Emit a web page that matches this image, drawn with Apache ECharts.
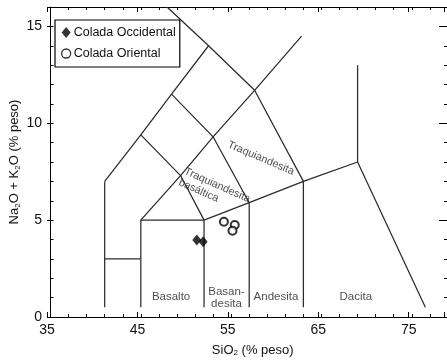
<!DOCTYPE html>
<html>
<head>
<meta charset="utf-8">
<script src="https://cdn.jsdelivr.net/npm/echarts@6/dist/echarts.min.js"></script>
<style>html,body{margin:0;padding:0;background:#fff}#c{width:447px;height:362px}</style>
</head>
<body>
<div id="c"></div>
<script>
// ---- Data ----
const seriesNames = ['Colada Occidental', 'Colada Oriental'];
const coladaOccidental = [[51.2, 3.97], [51.9, 3.89]];
const coladaOriental = [[54.2, 4.92], [55.4, 4.75], [55.15, 4.45]];

// TAS field boundaries (SiO2, Na2O+K2O)
const bPicrobasalt = [[41, 0.5], [41, 7]];
const bPicroTop = [[41, 3], [45, 3]];
const bBasalt = [[45, 0.5], [45, 5], [52, 5], [52, 0.5]];
const bSubalkaline = [[52, 5], [57, 5.9], [63, 7], [69, 8], [76.5, 0.5]];
const bAndesite = [[57, 0.5], [57, 5.9]];
const bDacite = [[63, 0.5], [63, 7]];
const bRhyolite = [[69, 8], [69, 13]];
const bFoidite = [[41, 7], [45, 9.4], [48.4, 11.5], [52.5, 14]];
const bTrachyLow = [[45, 5], [49.4, 7.3], [53, 9.3], [57.6, 11.7], [62.8, 14.5]];
const bTephrite = [[45, 9.4], [49.4, 7.3], [52, 5]];
const bPhonotephrite = [[48.4, 11.5], [53, 9.3], [57, 5.9]];
const bPhonolite = [[63, 7], [57.6, 11.7], [52.5, 14], [47.9, 16]];
const boundaries = [bPicrobasalt, bPicroTop, bBasalt, bSubalkaline, bAndesite, bDacite,
  bRhyolite, bFoidite, bTrachyLow, bTephrite, bPhonotephrite, bPhonolite];

// field names and their anchor points (SiO2, Na2O+K2O)
const fieldNames = ['Basalto', 'Basan-\ndesita', 'Andesita', 'Dacita', 'Traquiandesita', 'Traquiandesita', 'basáltica'];
const fieldAnchors = [[48.35, 1.05], [54.48, 1.0], [59.96, 1.05], [68.8, 1.03], [58.3, 8.2], [53.45, 6.8], [51.4, 6.52]];
const fieldAngles = [0, 0, 0, 0, -23, -24, -24];

const xTickLabels = [35, 45, 55, 65, 75];
const yTickLabels = [0, 5, 10, 15];

// ---- Chart ----
const FONT = 'Liberation Sans, Arial, sans-serif';
const TXT = '#111';
const LINE = '#2b2b2b';
const chart = echarts.init(document.getElementById('c'), null, {renderer: 'canvas'});

const gridBox = {left: 47, top: 7, right: -1, bottom: 45};
const XMIN = 35, XMAX = 78.9, YMIN = 0, YMAX = 16;

function baseX(gridIndex, position, interval, tickLen, showLine) {
  return {
    type: 'value', gridIndex, position, min: XMIN, max: XMAX, interval,
    axisLine: {show: showLine, onZero: false, lineStyle: {color: '#000', width: 1}},
    axisTick: {show: true, inside: true, length: tickLen, lineStyle: {color: '#000', width: 1}},
    axisLabel: {show: false},
    splitLine: {show: false}
  };
}
function baseY(gridIndex, position, interval, tickLen, showLine) {
  return {
    type: 'value', gridIndex, position, min: YMIN, max: YMAX, interval,
    axisLine: {show: showLine, onZero: false, lineStyle: {color: '#000', width: 1}},
    axisTick: {show: true, inside: true, length: tickLen, lineStyle: {color: '#000', width: 1}},
    axisLabel: {show: false},
    splitLine: {show: false}
  };
}

const xBottomMinor = baseX(0, 'bottom', 2, 3, true);
xBottomMinor.name = '{a|SiO}{s|2}{a| (% peso)}';
xBottomMinor.nameLocation = 'middle';
xBottomMinor.nameGap = 26;
xBottomMinor.nameTextStyle = {
  padding: [0, 0, 0, 8],
  rich: {
    a: {fontSize: 13, fontFamily: FONT, color: TXT},
    s: {fontSize: 8, fontFamily: FONT, color: TXT, verticalAlign: 'bottom', padding: [6, 0, 0, 0]}
  }
};
const xTopMinor = baseX(0, 'top', 2, 3, true);
const xBottomMajor = baseX(1, 'bottom', 10, 5, false);
xBottomMajor.axisLabel = {
  show: true, margin: 6, fontSize: 14, fontFamily: FONT, color: TXT,
  formatter: v => xTickLabels.includes(Math.round(v * 100) / 100) ? String(v) : ''
};
const xTopMajor = baseX(1, 'top', 10, 5, false);

const yLeftMinor = baseY(0, 'left', 1, 3, true);
yLeftMinor.name = '{a|Na}{s|2}{a|O + K}{s|2}{a|O (% peso)}';
yLeftMinor.nameLocation = 'middle';
yLeftMinor.nameGap = 29;
yLeftMinor.nameRotate = 90;
yLeftMinor.nameTextStyle = {
  padding: [0, 0, 0, 0],
  rich: {
    a: {fontSize: 13, fontFamily: FONT, color: TXT},
    s: {fontSize: 8, fontFamily: FONT, color: TXT, verticalAlign: 'bottom', padding: [6, 0, 0, 0]}
  }
};
const yRightMinor = baseY(0, 'right', 1, 3, true);
const yLeftMajor = baseY(1, 'left', 5, 5, false);
yLeftMajor.axisLabel = {
  show: true, margin: 5, fontSize: 14, fontFamily: FONT, color: TXT,
  formatter: v => yTickLabels.includes(v) ? String(v) : ''
};
const yRightMajor = baseY(1, 'right', 5, 5, false);

const series = [];
boundaries.forEach((b, i) => {
  series.push({
    type: 'line', name: 'b' + i, xAxisIndex: 0, yAxisIndex: 0,
    data: b, showSymbol: false, symbol: 'none', silent: true,
    lineStyle: {color: LINE, width: 1.25}, z: 2, animation: false
  });
});
series.push({
  type: 'scatter', name: 'fields', xAxisIndex: 0, yAxisIndex: 0, silent: true,
  symbolSize: 0, z: 3, animation: false,
  data: fieldNames.map((n, i) => ({
    name: n, value: fieldAnchors[i],
    label: {rotate: fieldAngles[i], fontSize: i >= 4 ? 10.8 : 11.5}
  })),
  label: {
    show: true, position: 'inside', formatter: p => p.name,
    fontFamily: FONT, color: '#222', lineHeight: 12.5, align: 'center', verticalAlign: 'middle'
  }
});
series.push({
  type: 'scatter', name: seriesNames[0], xAxisIndex: 0, yAxisIndex: 0,
  symbol: 'diamond', symbolSize: [9, 11], data: coladaOccidental,
  itemStyle: {color: '#000'}, z: 5, animation: false
});
series.push({
  type: 'scatter', name: seriesNames[1], xAxisIndex: 0, yAxisIndex: 0,
  symbol: 'emptyCircle', symbolSize: 8, data: coladaOriental,
  itemStyle: {color: '#000', borderColor: '#000', borderWidth: 1.3}, z: 5, animation: false
});

chart.setOption({
  backgroundColor: '#fff',
  animation: false,
  grid: [Object.assign({}, gridBox), Object.assign({}, gridBox)],
  xAxis: [xBottomMinor, xTopMinor, xBottomMajor, xTopMajor],
  yAxis: [yLeftMinor, yRightMinor, yLeftMajor, yRightMajor],
  legend: {
    data: [
      {name: seriesNames[0], icon: 'diamond', itemStyle: {color: '#000', borderWidth: 0}},
      {name: seriesNames[1], icon: 'circle', itemStyle: {color: '#fff', borderColor: '#000', borderWidth: 1.3}}
    ],
    orient: 'vertical', left: 55, top: 20,
    backgroundColor: '#fff', borderColor: '#000', borderWidth: 1.2,
    padding: [6, 4, 7, 6], itemGap: 8, itemWidth: 9, itemHeight: 11,
    textStyle: {fontSize: 12.5, fontFamily: FONT, color: TXT, padding: [0, 0, 0, -2]},
    selectedMode: false
  },
  series
});
</script>
</body>
</html>
